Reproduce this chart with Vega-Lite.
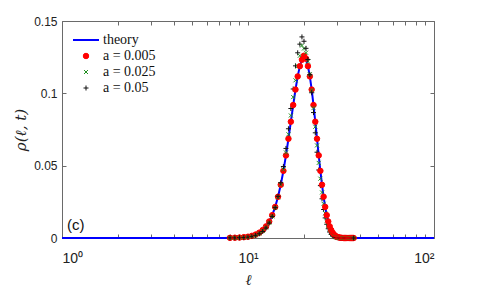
{
  "$schema": "https://vega.github.io/schema/vega-lite/v6.json",
  "width": 372,
  "height": 217,
  "autosize": "none",
  "padding": {"left": 62, "top": 21, "right": 46, "bottom": 50},
  "background": "white",
  "config": {
    "view": {"stroke": "#6a6a6a", "strokeWidth": 1},
    "axis": {
      "domain": false,
      "grid": false,
      "tickColor": "#6a6a6a",
      "tickSize": -4,
      "labelFont": "Liberation Sans",
      "labelFontSize": 12,
      "labelColor": "#222222",
      "titleColor": "#222222",
      "titleFont": "DejaVu Serif",
      "titleFontStyle": "italic",
      "titleFontWeight": "normal",
      "titleFontSize": 15
    },
    "legend": {
      "orient": "none",
      "legendX": 10,
      "legendY": 5,
      "padding": 0,
      "labelFont": "Liberation Serif",
      "labelFontSize": 14,
      "labelColor": "#111111",
      "rowPadding": 2,
      "labelOffset": 3
    }
  },
  "datasets": {
    "theory": [
      {"l": 1, "p": 0, "s": "theory"},
      {"l": 7, "p": 0, "s": "theory"},
      {"l": 7.5, "p": 0, "s": "theory"},
      {"l": 8, "p": 0.0001, "s": "theory"},
      {"l": 8.5, "p": 0.0002, "s": "theory"},
      {"l": 9, "p": 0.0003, "s": "theory"},
      {"l": 9.5, "p": 0.0006, "s": "theory"},
      {"l": 10, "p": 0.0009, "s": "theory"},
      {"l": 10.5, "p": 0.0015, "s": "theory"},
      {"l": 11, "p": 0.0024, "s": "theory"},
      {"l": 11.5, "p": 0.0037, "s": "theory"},
      {"l": 12, "p": 0.0055, "s": "theory"},
      {"l": 12.5, "p": 0.008, "s": "theory"},
      {"l": 13, "p": 0.0114, "s": "theory"},
      {"l": 13.5, "p": 0.0158, "s": "theory"},
      {"l": 14, "p": 0.0215, "s": "theory"},
      {"l": 14.5, "p": 0.0285, "s": "theory"},
      {"l": 15, "p": 0.0368, "s": "theory"},
      {"l": 15.5, "p": 0.0464, "s": "theory"},
      {"l": 16, "p": 0.0571, "s": "theory"},
      {"l": 16.5, "p": 0.0686, "s": "theory"},
      {"l": 17, "p": 0.0804, "s": "theory"},
      {"l": 17.5, "p": 0.0919, "s": "theory"},
      {"l": 18, "p": 0.1026, "s": "theory"},
      {"l": 18.5, "p": 0.1117, "s": "theory"},
      {"l": 19, "p": 0.1188, "s": "theory"},
      {"l": 19.5, "p": 0.1232, "s": "theory"},
      {"l": 20, "p": 0.1247, "s": "theory"},
      {"l": 20.5, "p": 0.1232, "s": "theory"},
      {"l": 21, "p": 0.1188, "s": "theory"},
      {"l": 21.5, "p": 0.1117, "s": "theory"},
      {"l": 22, "p": 0.1026, "s": "theory"},
      {"l": 22.5, "p": 0.0919, "s": "theory"},
      {"l": 23, "p": 0.0804, "s": "theory"},
      {"l": 23.5, "p": 0.0686, "s": "theory"},
      {"l": 24, "p": 0.0571, "s": "theory"},
      {"l": 24.5, "p": 0.0464, "s": "theory"},
      {"l": 25, "p": 0.0368, "s": "theory"},
      {"l": 25.5, "p": 0.0285, "s": "theory"},
      {"l": 26, "p": 0.0215, "s": "theory"},
      {"l": 26.5, "p": 0.0158, "s": "theory"},
      {"l": 27, "p": 0.0114, "s": "theory"},
      {"l": 27.5, "p": 0.008, "s": "theory"},
      {"l": 28, "p": 0.0055, "s": "theory"},
      {"l": 28.5, "p": 0.0037, "s": "theory"},
      {"l": 29, "p": 0.0024, "s": "theory"},
      {"l": 29.5, "p": 0.0015, "s": "theory"},
      {"l": 30, "p": 0.0009, "s": "theory"},
      {"l": 30.5, "p": 0.0006, "s": "theory"},
      {"l": 31, "p": 0.0003, "s": "theory"},
      {"l": 31.5, "p": 0.0002, "s": "theory"},
      {"l": 32, "p": 0.0001, "s": "theory"},
      {"l": 33, "p": 0, "s": "theory"},
      {"l": 40, "p": 0, "s": "theory"},
      {"l": 100, "p": 0, "s": "theory"}
    ],
    "sim": [
      {"l": 8, "r": 0.0001, "g": 0.0001, "b": 0.0001},
      {"l": 8.5, "r": 0.0002, "g": 0.0001, "b": 0.0001},
      {"l": 9, "r": 0.0003, "g": 0.0002, "b": 0.0002},
      {"l": 9.5, "r": 0.0006, "g": 0.0004, "b": 0.0003},
      {"l": 10, "r": 0.0009, "g": 0.0007, "b": 0.0006},
      {"l": 10.5, "r": 0.0015, "g": 0.0012, "b": 0.0011},
      {"l": 11, "r": 0.0024, "g": 0.0019, "b": 0.0018},
      {"l": 11.5, "r": 0.0037, "g": 0.0031, "b": 0.0029},
      {"l": 12, "r": 0.0055, "g": 0.0048, "b": 0.0045},
      {"l": 12.5, "r": 0.008, "g": 0.0072, "b": 0.0069},
      {"l": 13, "r": 0.0114, "g": 0.0105, "b": 0.0103},
      {"l": 13.5, "r": 0.0158, "g": 0.015, "b": 0.0149},
      {"l": 14, "r": 0.0215, "g": 0.0208, "b": 0.021},
      {"l": 14.5, "r": 0.0285, "g": 0.0281, "b": 0.0288},
      {"l": 15, "r": 0.0368, "g": 0.037, "b": 0.0382},
      {"l": 15.5, "r": 0.0464, "g": 0.0474, "b": 0.0494},
      {"l": 16, "r": 0.0571, "g": 0.0591, "b": 0.0619},
      {"l": 16.5, "r": 0.0686, "g": 0.0717, "b": 0.0755},
      {"l": 17, "r": 0.0804, "g": 0.0847, "b": 0.0895},
      {"l": 17.5, "r": 0.0919, "g": 0.0974, "b": 0.103},
      {"l": 18, "r": 0.1026, "g": 0.109, "b": 0.119},
      {"l": 18.5, "r": 0.1117, "g": 0.1188, "b": 0.128},
      {"l": 19, "r": 0.1188, "g": 0.126, "b": 0.134},
      {"l": 19.5, "r": 0.1232, "g": 0.133, "b": 0.139},
      {"l": 20, "r": 0.126, "g": 0.131, "b": 0.136},
      {"l": 20.5, "r": 0.124, "g": 0.1281, "b": 0.1311},
      {"l": 21, "r": 0.1188, "g": 0.122, "b": 0.1234},
      {"l": 21.5, "r": 0.1117, "g": 0.1132, "b": 0.1129},
      {"l": 22, "r": 0.1026, "g": 0.1022, "b": 0.1004},
      {"l": 22.5, "r": 0.0919, "g": 0.0898, "b": 0.0867},
      {"l": 23, "r": 0.0804, "g": 0.0769, "b": 0.0727},
      {"l": 23.5, "r": 0.0686, "g": 0.064, "b": 0.0593},
      {"l": 24, "r": 0.0571, "g": 0.0519, "b": 0.047},
      {"l": 24.5, "r": 0.0464, "g": 0.041, "b": 0.0362},
      {"l": 25, "r": 0.0368, "g": 0.0315, "b": 0.0271},
      {"l": 25.5, "r": 0.0285, "g": 0.0236, "b": 0.0197},
      {"l": 26, "r": 0.0215, "g": 0.0171, "b": 0.0139},
      {"l": 26.5, "r": 0.0158, "g": 0.0122, "b": 0.0095},
      {"l": 27, "r": 0.0114, "g": 0.0084, "b": 0.0064},
      {"l": 27.5, "r": 0.008, "g": 0.0056, "b": 0.0041},
      {"l": 28, "r": 0.0055, "g": 0.0037, "b": 0.0026},
      {"l": 28.5, "r": 0.0037, "g": 0.0023, "b": 0.0016},
      {"l": 29, "r": 0.0024, "g": 0.0015, "b": 0.0009},
      {"l": 29.5, "r": 0.0015, "g": 0.0009, "b": 0.0005},
      {"l": 30, "r": 0.0009, "g": 0.0005, "b": 0.0003},
      {"l": 30.5, "r": 0.0006, "g": 0.0003, "b": 0.0002},
      {"l": 31, "r": 0.0003, "g": 0.0002, "b": 0.0001},
      {"l": 31.5, "r": 0.0002, "g": 0.0001, "b": 0},
      {"l": 32, "r": 0.0001, "g": 0, "b": 0},
      {"l": 32.5, "r": 0, "g": 0, "b": 0},
      {"l": 33, "r": 0, "g": 0, "b": 0},
      {"l": 33.5, "r": 0, "g": 0, "b": 0},
      {"l": 34, "r": 0, "g": 0, "b": 0},
      {"l": 34.5, "r": 0, "g": 0, "b": 0},
      {"l": 35, "r": 0, "g": 0, "b": 0},
      {"l": 35.5, "r": 0, "g": 0, "b": 0},
      {"l": 36, "r": 0, "g": 0, "b": 0},
      {"l": 36.5, "r": 0, "g": 0, "b": 0},
      {"l": 37, "r": 0, "g": 0, "b": 0}
    ]
  },
  "resolve": {"axis": {"x": "independent", "y": "independent"}},
  "layer": [
    {
      "data": {"name": "theory"},
      "mark": {"type": "line", "strokeWidth": 2},
      "encoding": {
        "x": {
          "field": "l", "type": "quantitative",
          "scale": {"type": "log", "domain": [1, 100], "nice": false},
          "axis": {
            "orient": "bottom",
            "title": "ℓ",
            "titlePadding": 7,
            "values": [1, 2, 3, 4, 5, 6, 7, 8, 9, 10, 20, 30, 40, 50, 60, 70, 80, 90, 100],
            "labelExpr": "datum.value == 1 ? '10⁰' : datum.value == 10 ? '10¹' : datum.value == 100 ? '10²' : ''",
            "labelOverlap": false,
            "labelPadding": 17,
            "labelFontSize": 14
          }
        },
        "y": {
          "field": "p", "type": "quantitative",
          "scale": {"domain": [0, 0.15], "nice": false, "zero": true},
          "axis": {
            "orient": "left",
            "title": "ρ(ℓ, t)",
            "values": [0, 0.05, 0.1, 0.15],
            "labelExpr": "datum.value == 0 ? '0' : datum.value < 0.07 ? '0.05' : datum.value < 0.12 ? '0.1' : '0.15'",
            "labelPadding": 9,
            "titlePadding": 5
          }
        },
        "stroke": {
          "field": "s", "type": "nominal",
          "scale": {"domain": ["theory", "r", "g", "b"], "range": ["#0000ff", "#ff0000", "#1f8f1f", "#111111"]},
          "legend": {
            "title": null,
            "labelExpr": "datum.label == 'theory' ? 'theory' : datum.label == 'r' ? 'a = 0.005' : datum.label == 'g' ? 'a = 0.025' : 'a = 0.05'"
          }
        }
      }
    },
    {
      "data": {"name": "sim"},
      "transform": [{"fold": ["r", "g", "b"], "as": ["s", "p"]}],
      "mark": {"type": "point", "opacity": 1},
      "encoding": {
        "x": {
          "field": "l", "type": "quantitative",
          "axis": {
            "orient": "top",
            "title": null,
            "labels": false,
            "values": [1, 2, 3, 4, 5, 6, 7, 8, 9, 10, 20, 30, 40, 50, 60, 70, 80, 90, 100]
          }
        },
        "y": {
          "field": "p", "type": "quantitative",
          "axis": {"orient": "right", "title": null, "labels": false, "values": [0, 0.05, 0.1, 0.15]}
        },
        "stroke": {"field": "s", "type": "nominal"},
        "fill": {
          "field": "s", "type": "nominal",
          "scale": {"domain": ["theory", "r", "g", "b"], "range": ["transparent", "#ff0000", "transparent", "transparent"]}
        },
        "shape": {
          "field": "s", "type": "nominal",
          "scale": {"domain": ["theory", "r", "g", "b"], "range": ["stroke", "circle", "M-1,-1L1,1M-1,1L1,-1", "M0,-1V1M-1,0H1"]}
        },
        "size": {
          "field": "s", "type": "nominal",
          "scale": {"type": "ordinal", "domain": ["theory", "r", "g", "b"], "range": [676, 30, 16, 25]}
        },
        "strokeWidth": {
          "field": "s", "type": "nominal",
          "scale": {"type": "ordinal", "domain": ["theory", "r", "g", "b"], "range": [2, 1, 1, 1]}
        }
      }
    },
    {
      "data": {"values": [{"note": "(c)"}]},
      "mark": {"type": "text", "font": "Liberation Sans", "fontSize": 15, "align": "left", "baseline": "alphabetic", "color": "#111111"},
      "encoding": {
        "x": {"datum": 1.064, "type": "quantitative", "axis": null},
        "y": {"datum": 0.0055, "type": "quantitative", "axis": null},
        "text": {"field": "note", "type": "nominal"}
      }
    }
  ]
}
